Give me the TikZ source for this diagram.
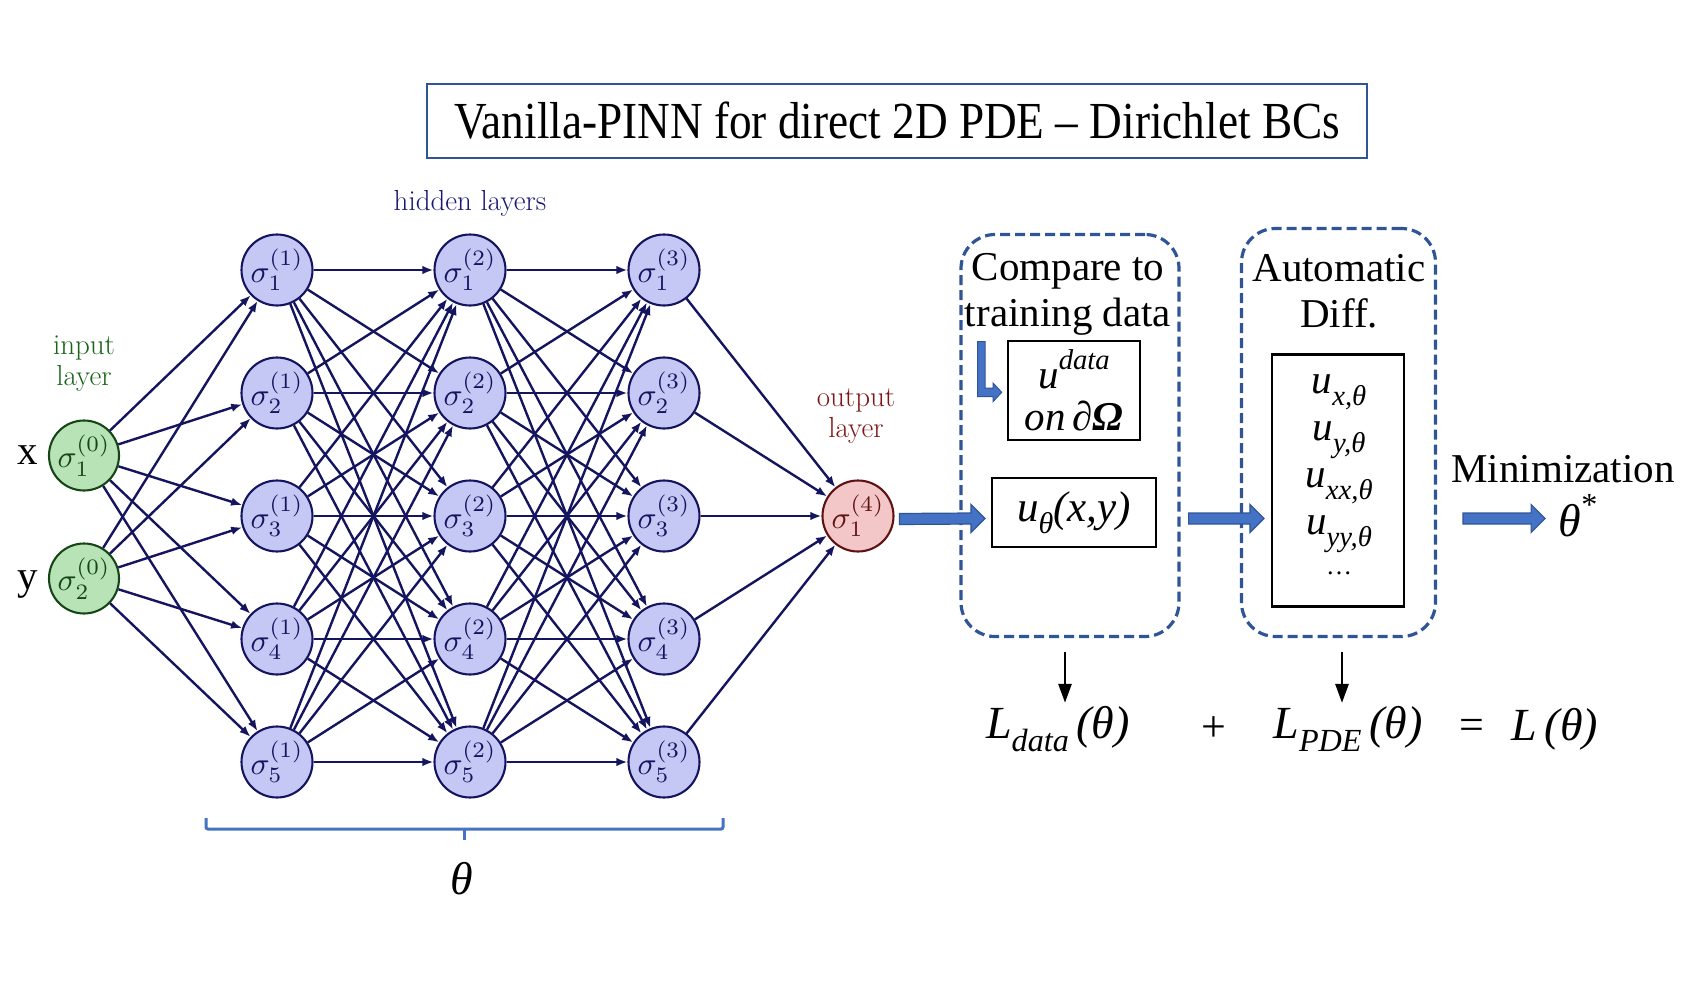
\documentclass[tikz,border=0pt]{standalone}
\usepackage{fontspec}
\usepackage{graphicx}
\newfontfamily\tnr{Liberation Serif}
\usetikzlibrary{arrows.meta,calc}

\definecolor{netnavy}{RGB}{20,20,95}
\definecolor{hidfill}{RGB}{197,199,244}
\definecolor{infill}{RGB}{183,227,183}
\definecolor{indark}{RGB}{22,70,22}
\definecolor{intext}{RGB}{25,100,25}
\definecolor{outfill}{RGB}{243,199,199}
\definecolor{outdark}{RGB}{95,18,18}
\definecolor{outtext}{RGB}{125,22,22}
\definecolor{hidtext}{RGB}{25,25,115}
\definecolor{frameblue}{RGB}{47,85,151}
\definecolor{fillblue}{RGB}{68,114,196}

% Times-style sub/superscripts for the loss formulas
\newcommand\tsub[1]{\raisebox{-0.28em}{\scalebox{0.7}{#1}}}
\newcommand\tsup[1]{\raisebox{0.45em}{\scalebox{0.7}{#1}}}
% neuron label, math set at 10pt and enlarged
\newcommand\neu[2]{\scalebox{3.15}{$\sigma^{(#1)}_{#2}$}}

% thick blue block arrow from coordinate #1 to tip #2
\newcommand\blockarrow[2]{%
  \filldraw[fill=fillblue,draw=frameblue,line width=1.2pt,line join=miter]
    ($(#1)+(0,-5.5)$) -- ($(#2)+(-14,-5.5)$) -- ($(#2)+(-14,-14)$) -- (#2)
    -- ($(#2)+(-14,14)$) -- ($(#2)+(-14,5.5)$) -- ($(#1)+(0,5.5)$) -- cycle;}

\begin{document}
\begin{tikzpicture}[x=1pt,y=-1pt,
  neuron/.style={circle,draw=netnavy,line width=2.1pt,fill=hidfill,text=netnavy,
    minimum size=71pt,inner sep=0pt},
  inneuron/.style={neuron,draw=indark,fill=infill,text=indark,minimum size=70pt},
  outneuron/.style={neuron,draw=outdark,fill=outfill,text=outdark},
  syn/.style={draw=netnavy,line width=2.4pt,-{Latex[length=11pt,width=8.5pt]}},
  netlabel/.style={font=\fontsize{29}{31}\selectfont,align=center},
  big/.style={font=\tnr\fontsize{41}{46}\selectfont,align=center},
  formula/.style={font=\tnr\itshape\fontsize{43}{46}\selectfont},
  loss/.style={font=\tnr\itshape\fontsize{46}{50}\selectfont},
  dashbox/.style={draw=frameblue,line width=3.2pt,dash pattern=on 10pt off 5pt,
    rounded corners=34pt,inner sep=0pt},
  plainbox/.style={draw=black,line width=2.2pt,inner sep=0pt},
  downarr/.style={draw=black,line width=2.8pt,-{Triangle[length=19pt,width=13pt]}}]
\useasboundingbox (0,0) rectangle (1692,982);

% title
\node[draw=frameblue,line width=2.2pt,minimum width=940pt,minimum height=74pt,
  font=\tnr\fontsize{52}{56}\selectfont] (title) at (897,121)
  {\scalebox{0.87}[1]{Vanilla-PINN for direct 2D PDE – Dirichlet BCs}};

% network
\node[inneuron] (i1) at (84,455.5) {\neu{0}{1}};
\node[inneuron] (i2) at (84,578.5) {\neu{0}{2}};
\foreach \l/\x in {1/277,2/470,3/664}
  \foreach \r/\y in {1/270,2/393,3/516,4/639,5/762}
    \node[neuron] (h\l\r) at (\x,\y) {\neu{\l}{\r}};
\node[outneuron] (o) at (858,516) {\neu{4}{1}};

\foreach \i in {1,2}
  \foreach \j in {1,...,5}
    \draw[syn] (i\i) -- (h1\j);
\foreach \l/\m in {1/2,2/3}
  \foreach \i in {1,...,5}
    \foreach \j in {1,...,5}
      \draw[syn] (h\l\i) -- (h\m\j);
\foreach \i in {1,...,5}
  \draw[syn] (h3\i) -- (o);

\node[font=\tnr\fontsize{41}{44}\selectfont,anchor=base] (xlab) at (28,464) {x};
\node[font=\tnr\fontsize{41}{44}\selectfont,anchor=base] (ylab) at (28,589) {y};
\node[netlabel,text=intext] (inlab) at (84,364) {input\\layer};
\node[netlabel,text=hidtext] (hidlab) at (470,203) {hidden layers};
\node[netlabel,text=outtext] (outlab) at (856,416) {output\\layer};

% bracket under the hidden layers
\draw[fillblue,line width=3pt,rounded corners=2pt]
  (206,818) -- (206,829) -- (723,829) -- (723,818);
\draw[fillblue,line width=3pt] (464,829) -- (464,840);
\node[font=\tnr\itshape\fontsize{46}{50}\selectfont] (theta) at (462,879) {θ};

% data comparison block
\node[dashbox,minimum width=218pt,minimum height=402pt] (cmp) at (1070,435.5) {};
\node[big] (cmplab) at (1068,294.5) {Compare to\\training data};
\node[plainbox,minimum width=132pt,minimum height=99pt,align=center,
  font=\tnr\fontsize{41}{44}\selectfont] (udata) at (1074,390.5)
  {{\itshape u\tsup{data}}\\[-2pt]{\itshape on}\,{\bfseries ∂\itshape Ω}};
\node[plainbox,minimum width=164pt,minimum height=69pt,formula] (utheta) at (1074,512.5)
  {u\tsub{θ}(x,y)};
\filldraw[fill=fillblue,draw=frameblue,line width=1pt,line join=miter]
  (977.7,341.7) -- (985,341.7) -- (985,388) -- (993,388) -- (993,383) -- (1001.7,392.3)
  -- (993,401.7) -- (993,396.7) -- (977.7,396.7) -- cycle;

% automatic differentiation block
\node[dashbox,minimum width=194pt,minimum height=408pt] (ad) at (1338.5,432.5) {};
\node[big] (adlab) at (1339,291) {Automatic\\Diff.};
\node[plainbox,minimum width=132pt,minimum height=252pt] (derivs) at (1338,480.5) {};
\node[align=center,font=\tnr\itshape\fontsize{41}{48}\selectfont] (dlist) at (1339,475)
  {u\tsub{x,θ}\\[-1pt]u\tsub{y,θ}\\[-1pt]u\tsub{xx,θ}\\[-1pt]u\tsub{yy,θ}\\[-8pt]{\upshape\fontsize{26}{30}\selectfont …}};

% block arrows between stages
\coordinate (a1s) at ($(o.east)+(5,3)$);
\coordinate (a1e) at ($(utheta.west)+(-6,6)$);
\blockarrow{a1s}{a1e}
\coordinate (a2s) at ($(cmp.east)+(8,83)$);
\coordinate (a2e) at ($(derivs.west)+(-7,38)$);
\blockarrow{a2s}{a2e}
\node[big] (minlab) at (1563,469) {Minimization};
\node[loss] (tstar) at (1578,516) {θ\tsup{\upshape *}};
\coordinate (a3s) at (1463,518.5);
\coordinate (a3e) at ($(tstar.west)+(-10,2.5)$);
\blockarrow{a3s}{a3e}

% loss terms
\node[loss] (ldata) at (1058,729) {L\tsub{data}\,(θ)};
\node[font=\tnr\fontsize{44}{48}\selectfont] (plus) at (1214,729) {+};
\node[loss] (lpde) at (1348,729) {L\tsub{PDE}\,(θ)};
\node[font=\tnr\fontsize{44}{48}\selectfont] (eq) at (1472,729) {=};
\node[loss] (ltot) at (1555,729) {L\,(θ)};

\coordinate (d1) at (1065,652);
\coordinate (d2) at (1342,652);
\draw[downarr] (d1) -- (d1 |- ldata.north);
\draw[downarr] (d2) -- (d2 |- lpde.north);
\end{tikzpicture}
\end{document}
